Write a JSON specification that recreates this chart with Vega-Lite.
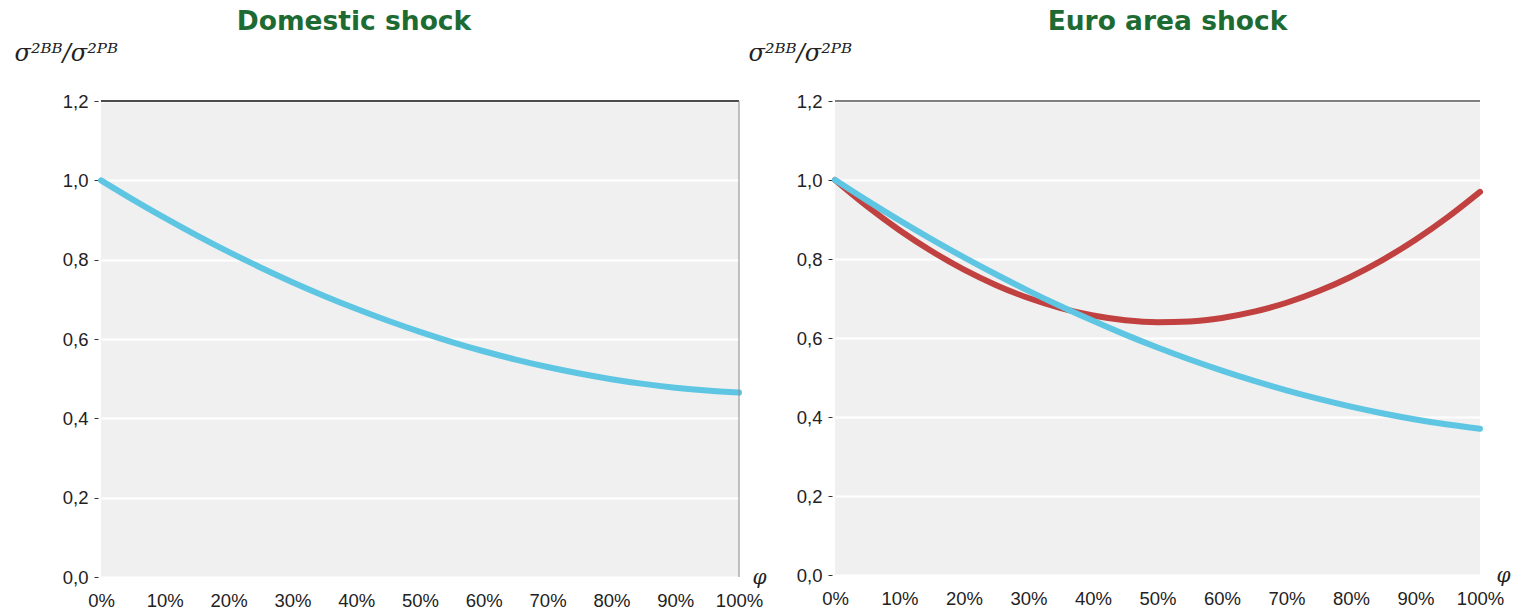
{
  "$schema": "https://vega.github.io/schema/vega-lite/v6.json",
  "padding": {"left": 14, "top": 8, "right": 10, "bottom": 5},
  "background": "white",
  "bounds": "flush",
  "spacing": 96,
  "config": {
    "view": {"fill": "#f0f0f0", "stroke": null},
    "font": "Liberation Sans",
    "axis": {"labelFont": "Liberation Sans", "labelFontSize": 18.5, "labelColor": "#222"},
    "title": {"font": "DejaVu Sans", "fontSize": 26.5, "fontWeight": "bold", "color": "#1d6b33", "anchor": "middle", "frame": "group"}
  },
  "datasets": {
    "d": [
      {"panel": "dom", "series": "A", "phi": 0.00, "value": 1.000},
      {"panel": "dom", "series": "A", "phi": 0.05, "value": 0.9515},
      {"panel": "dom", "series": "A", "phi": 0.10, "value": 0.9053},
      {"panel": "dom", "series": "A", "phi": 0.15, "value": 0.8614},
      {"panel": "dom", "series": "A", "phi": 0.20, "value": 0.8197},
      {"panel": "dom", "series": "A", "phi": 0.25, "value": 0.7804},
      {"panel": "dom", "series": "A", "phi": 0.30, "value": 0.7433},
      {"panel": "dom", "series": "A", "phi": 0.35, "value": 0.7086},
      {"panel": "dom", "series": "A", "phi": 0.40, "value": 0.6761},
      {"panel": "dom", "series": "A", "phi": 0.45, "value": 0.6459},
      {"panel": "dom", "series": "A", "phi": 0.50, "value": 0.6180},
      {"panel": "dom", "series": "A", "phi": 0.55, "value": 0.5924},
      {"panel": "dom", "series": "A", "phi": 0.60, "value": 0.5691},
      {"panel": "dom", "series": "A", "phi": 0.65, "value": 0.5481},
      {"panel": "dom", "series": "A", "phi": 0.70, "value": 0.5293},
      {"panel": "dom", "series": "A", "phi": 0.75, "value": 0.5129},
      {"panel": "dom", "series": "A", "phi": 0.80, "value": 0.4987},
      {"panel": "dom", "series": "A", "phi": 0.85, "value": 0.4869},
      {"panel": "dom", "series": "A", "phi": 0.90, "value": 0.4773},
      {"panel": "dom", "series": "A", "phi": 0.95, "value": 0.4700},
      {"panel": "dom", "series": "A", "phi": 1.00, "value": 0.4650},
      {"panel": "euro", "series": "B", "phi": 0.00, "value": 1.000},
      {"panel": "euro", "series": "B", "phi": 0.05, "value": 0.9330},
      {"panel": "euro", "series": "B", "phi": 0.10, "value": 0.8728},
      {"panel": "euro", "series": "B", "phi": 0.15, "value": 0.8196},
      {"panel": "euro", "series": "B", "phi": 0.20, "value": 0.7732},
      {"panel": "euro", "series": "B", "phi": 0.25, "value": 0.7338},
      {"panel": "euro", "series": "B", "phi": 0.30, "value": 0.7012},
      {"panel": "euro", "series": "B", "phi": 0.35, "value": 0.6756},
      {"panel": "euro", "series": "B", "phi": 0.40, "value": 0.6568},
      {"panel": "euro", "series": "B", "phi": 0.45, "value": 0.6450},
      {"panel": "euro", "series": "B", "phi": 0.50, "value": 0.6400},
      {"panel": "euro", "series": "B", "phi": 0.55, "value": 0.6420},
      {"panel": "euro", "series": "B", "phi": 0.60, "value": 0.6508},
      {"panel": "euro", "series": "B", "phi": 0.65, "value": 0.6666},
      {"panel": "euro", "series": "B", "phi": 0.70, "value": 0.6892},
      {"panel": "euro", "series": "B", "phi": 0.75, "value": 0.7188},
      {"panel": "euro", "series": "B", "phi": 0.80, "value": 0.7552},
      {"panel": "euro", "series": "B", "phi": 0.85, "value": 0.7986},
      {"panel": "euro", "series": "B", "phi": 0.90, "value": 0.8488},
      {"panel": "euro", "series": "B", "phi": 0.95, "value": 0.9060},
      {"panel": "euro", "series": "B", "phi": 1.00, "value": 0.9700},
      {"panel": "euro", "series": "A", "phi": 0.00, "value": 1.000},
      {"panel": "euro", "series": "A", "phi": 0.05, "value": 0.9478},
      {"panel": "euro", "series": "A", "phi": 0.10, "value": 0.8978},
      {"panel": "euro", "series": "A", "phi": 0.15, "value": 0.8499},
      {"panel": "euro", "series": "A", "phi": 0.20, "value": 0.8042},
      {"panel": "euro", "series": "A", "phi": 0.25, "value": 0.7608},
      {"panel": "euro", "series": "A", "phi": 0.30, "value": 0.7194},
      {"panel": "euro", "series": "A", "phi": 0.35, "value": 0.6803},
      {"panel": "euro", "series": "A", "phi": 0.40, "value": 0.6434},
      {"panel": "euro", "series": "A", "phi": 0.45, "value": 0.6086},
      {"panel": "euro", "series": "A", "phi": 0.50, "value": 0.5760},
      {"panel": "euro", "series": "A", "phi": 0.55, "value": 0.5456},
      {"panel": "euro", "series": "A", "phi": 0.60, "value": 0.5174},
      {"panel": "euro", "series": "A", "phi": 0.65, "value": 0.4913},
      {"panel": "euro", "series": "A", "phi": 0.70, "value": 0.4674},
      {"panel": "euro", "series": "A", "phi": 0.75, "value": 0.4458},
      {"panel": "euro", "series": "A", "phi": 0.80, "value": 0.4262},
      {"panel": "euro", "series": "A", "phi": 0.85, "value": 0.4089},
      {"panel": "euro", "series": "A", "phi": 0.90, "value": 0.3938},
      {"panel": "euro", "series": "A", "phi": 0.95, "value": 0.3808},
      {"panel": "euro", "series": "A", "phi": 1.00, "value": 0.3700}
    ]
  },
  "hconcat": [
    {
      "width": 638,
      "height": 476,
      "title": {"text": "Domestic shock", "dx": -66, "offset": 6},
      "layer": [
        {
          "data": {"name": "d"},
          "transform": [{"filter": "datum.panel === 'dom'"}],
          "mark": {"type": "line", "strokeWidth": 6, "strokeCap": "round", "interpolate": "monotone"},
          "encoding": {
            "x": {"field": "phi", "type": "quantitative", "scale": {"domain": [0, 1], "nice": false},
              "axis": {"title": "φ", "values": [0, 0.1, 0.2, 0.3, 0.4, 0.5, 0.6, 0.7, 0.8, 0.9, 1], "format": ".0%", "grid": false, "domain": false, "ticks": false, "labelPadding": 14, "labelFlush": false, "labelOverlap": false,
                "titleX": 658, "titleY": 0, "titleBaseline": "middle", "titleAlign": "center", "titleFont": "DejaVu Serif", "titleFontStyle": "italic", "titleFontWeight": "normal", "titleFontSize": 20, "titleColor": "#222"}},
            "y": {"field": "value", "type": "quantitative", "scale": {"domain": [0, 1.2], "nice": false},
              "axis": {"title": "σ²ᴮᴮ/σ²ᴾᴮ", "values": [0, 0.2, 0.4, 0.6, 0.8, 1.0, 1.2], "labelExpr": "replace(format(datum.value, '.1f'), '.', ',')", "grid": true, "gridColor": "white", "gridWidth": 2, "domain": false, "tickSize": 4, "offset": 3, "tickColor": "#333", "labelPadding": 6,
                "titleAngle": 0, "titleAlign": "left", "titleBaseline": "middle", "titleX": -84, "titleY": -48, "titleFont": "DejaVu Serif", "titleFontStyle": "italic", "titleFontWeight": "normal", "titleFontSize": 24, "titleColor": "#222"}},
            "color": {"field": "series", "type": "nominal", "scale": {"domain": ["A", "B"], "range": ["#5ec6e2", "#c0413f"]}, "legend": null}
          }
        },
        {
          "data": {"values": [{"value": 1.2}]},
          "mark": {"type": "rule", "color": "#111", "strokeWidth": 1.5},
          "encoding": {"y": {"field": "value", "type": "quantitative"}}
        },
        {
          "data": {"values": [{"phi": 1}]},
          "mark": {"type": "rule", "color": "#888", "strokeWidth": 1},
          "encoding": {"x": {"field": "phi", "type": "quantitative"}}
        }
      ]
    },
    {
      "width": 645,
      "height": 474,
      "title": {"text": "Euro area shock", "dx": 10, "offset": 6},
      "layer": [
        {
          "data": {"name": "d"},
          "transform": [{"filter": "datum.panel === 'euro'"}],
          "mark": {"type": "line", "strokeWidth": 6, "strokeCap": "round", "interpolate": "monotone"},
          "encoding": {
            "x": {"field": "phi", "type": "quantitative", "scale": {"domain": [0, 1], "nice": false},
              "axis": {"title": "φ", "values": [0, 0.1, 0.2, 0.3, 0.4, 0.5, 0.6, 0.7, 0.8, 0.9, 1], "format": ".0%", "grid": false, "domain": false, "ticks": false, "labelPadding": 14, "labelFlush": false, "labelOverlap": false,
                "titleX": 668, "titleY": 0, "titleBaseline": "middle", "titleAlign": "center", "titleFont": "DejaVu Serif", "titleFontStyle": "italic", "titleFontWeight": "normal", "titleFontSize": 20, "titleColor": "#222"}},
            "y": {"field": "value", "type": "quantitative", "scale": {"domain": [0, 1.2], "nice": false},
              "axis": {"title": "σ²ᴮᴮ/σ²ᴾᴮ", "values": [0, 0.2, 0.4, 0.6, 0.8, 1.0, 1.2], "labelExpr": "replace(format(datum.value, '.1f'), '.', ',')", "grid": true, "gridColor": "white", "gridWidth": 2, "domain": false, "tickSize": 4, "offset": 3, "tickColor": "#333", "labelPadding": 6,
                "titleAngle": 0, "titleAlign": "left", "titleBaseline": "middle", "titleX": -84, "titleY": -48, "titleFont": "DejaVu Serif", "titleFontStyle": "italic", "titleFontWeight": "normal", "titleFontSize": 24, "titleColor": "#222"}},
            "color": {"field": "series", "type": "nominal", "scale": {"domain": ["A", "B"], "range": ["#5ec6e2", "#c0413f"]}, "legend": null}
          }
        },
        {
          "data": {"values": [{"value": 1.2}]},
          "mark": {"type": "rule", "color": "#555", "strokeWidth": 1.5},
          "encoding": {"y": {"field": "value", "type": "quantitative"}}
        }
      ]
    }
  ]
}
